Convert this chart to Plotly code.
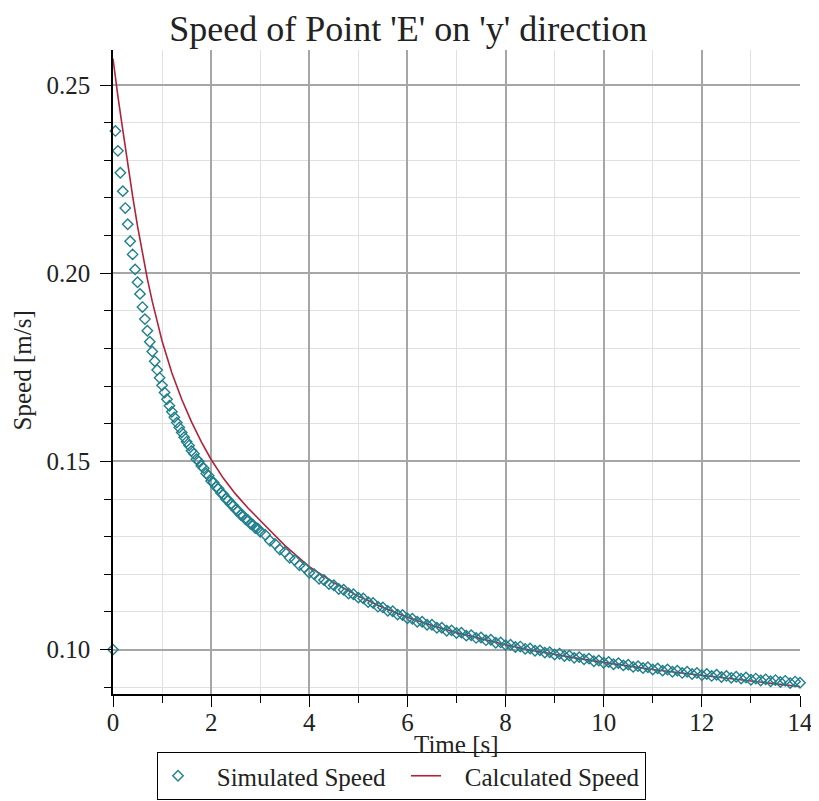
import plotly.graph_objects as go

# ---- data ----
sim_t = [0.00, 0.05, 0.10, 0.15, 0.20, 0.25, 0.30, 0.35, 0.40, 0.45, 0.50, 0.55, 0.60, 0.65, 0.70,
         0.75, 0.80, 0.85, 0.90, 0.95, 1.00, 1.05, 1.10, 1.15, 1.20, 1.25, 1.30, 1.35, 1.40, 1.45,
         1.50, 1.55, 1.60, 1.65, 1.70, 1.75, 1.80, 1.85, 1.90, 1.95, 2.00, 2.05, 2.10, 2.15, 2.20,
         2.25, 2.30, 2.35, 2.40, 2.45, 2.50, 2.55, 2.60, 2.65, 2.70, 2.75, 2.80, 2.85, 2.90, 2.95,
         3.0, 3.1, 3.2, 3.3, 3.4, 3.5, 3.6, 3.7, 3.8, 3.9,
         4.0, 4.1, 4.2, 4.3, 4.4, 4.5, 4.6, 4.7, 4.8, 4.9,
         5.0, 5.1, 5.2, 5.3, 5.4, 5.5, 5.6, 5.7, 5.8, 5.9,
         6.0, 6.1, 6.2, 6.3, 6.4, 6.5, 6.6, 6.7, 6.8, 6.9,
         7.0, 7.1, 7.2, 7.3, 7.4, 7.5, 7.6, 7.7, 7.8, 7.9,
         8.0, 8.1, 8.2, 8.3, 8.4, 8.5, 8.6, 8.7, 8.8, 8.9,
         9.0, 9.1, 9.2, 9.3, 9.4, 9.5, 9.6, 9.7, 9.8, 9.9,
         10.0, 10.1, 10.2, 10.3, 10.4, 10.5, 10.6, 10.7, 10.8, 10.9,
         11.0, 11.1, 11.2, 11.3, 11.4, 11.5, 11.6, 11.7, 11.8, 11.9,
         12.0, 12.1, 12.2, 12.3, 12.4, 12.5, 12.6, 12.7, 12.8, 12.9,
         13.0, 13.1, 13.2, 13.3, 13.4, 13.5, 13.6, 13.7, 13.8, 13.9, 14.0]

sim_v = [0.1000, 0.2378, 0.2325, 0.2267, 0.2218, 0.2173, 0.2130, 0.2085, 0.2050, 0.2010,
         0.1976, 0.1945, 0.1910, 0.1878, 0.1847, 0.1818, 0.1792, 0.1766, 0.1743, 0.1722,
         0.1702, 0.1683, 0.1665, 0.1648, 0.1632, 0.1617, 0.1603, 0.1590, 0.1577, 0.1564,
         0.1552, 0.1542, 0.1528, 0.1520, 0.1506, 0.1500, 0.1488, 0.1482, 0.1468, 0.1462,
         0.1448, 0.1444, 0.1432, 0.1428, 0.1416, 0.1412, 0.1400, 0.1397, 0.1386, 0.1383,
         0.1372, 0.1369, 0.1358, 0.1356, 0.1346, 0.1344, 0.1334, 0.1332, 0.1323, 0.1322,
         0.1313, 0.1305, 0.1289, 0.1281, 0.1266, 0.1259, 0.1244, 0.1238, 0.1224, 0.1218,
         0.1204, 0.1200, 0.1188, 0.1185, 0.1174, 0.1171, 0.1161, 0.1159, 0.1149, 0.1147,
         0.1138, 0.1136, 0.1126, 0.1124, 0.1114, 0.1112, 0.1103, 0.1102, 0.1093, 0.1092,
         0.1083, 0.1082, 0.1074, 0.1074, 0.1066, 0.1066, 0.1058, 0.1058, 0.1050, 0.1051,
         0.1044, 0.1045, 0.1037, 0.1038, 0.1031, 0.1032, 0.1025, 0.1026, 0.1018, 0.1019,
         0.1012, 0.1013, 0.1007, 0.1008, 0.1002, 0.1003, 0.0997, 0.0998, 0.0992, 0.0993,
         0.0987, 0.0989, 0.0983, 0.0984, 0.0978, 0.0980, 0.0974, 0.0976, 0.0969, 0.0971,
         0.0965, 0.0967, 0.0961, 0.0964, 0.0958, 0.0960, 0.0954, 0.0956, 0.0951, 0.0953,
         0.0947, 0.0950, 0.0944, 0.0947, 0.0941, 0.0944, 0.0938, 0.0941, 0.0935, 0.0938,
         0.0932, 0.0935, 0.0930, 0.0933, 0.0927, 0.0930, 0.0925, 0.0928, 0.0923, 0.0926,
         0.0920, 0.0923, 0.0918, 0.0921, 0.0916, 0.0919, 0.0914, 0.0917, 0.0911, 0.0915, 0.0912]

calc_t = [0.0, 0.05, 0.1, 0.2, 0.3, 0.4, 0.5, 0.6, 0.7, 0.8, 0.9, 1.0, 1.2, 1.4, 1.6, 1.8, 2.0,
          2.25, 2.5, 2.75, 3.0, 3.5, 4.0, 4.5, 5.0, 5.5, 6.0, 6.5, 7.0, 7.5, 8.0, 8.5, 9.0, 9.5,
          10.0, 10.5, 11.0, 11.5, 12.0, 12.5, 13.0, 13.5, 14.0]
calc_v = [0.2570, 0.2515, 0.2470, 0.2380, 0.2290, 0.2205, 0.2125, 0.2050, 0.1985, 0.1925,
          0.1870, 0.1820, 0.1735, 0.1665, 0.1605, 0.1552, 0.1505, 0.1455, 0.1413, 0.1376,
          0.1343, 0.1277, 0.1220, 0.1178, 0.1142, 0.1112, 0.1086, 0.1064, 0.1045, 0.1028,
          0.1013, 0.0999, 0.0987, 0.0976, 0.0966, 0.0956, 0.0947, 0.0939, 0.0931, 0.0923,
          0.0916, 0.0909, 0.0902]

title_text = "Speed of Point 'E' on 'y' direction"
x_label = "Time [s]"
y_label = "Speed [m/s]"
series_names = ["Simulated Speed", "Calculated Speed"]

SERIF = "Liberation Serif, Times New Roman, serif"
TXT = "#222222"
PAD = "\u00a0\u00a0\u00a0"

# page body has an 8px margin; figure sized to fill the rest of the 819x801 window
W, H = 811, 793

fig = go.Figure()
fig.add_trace(go.Scatter(
    x=calc_t, y=calc_v, mode="lines", name=PAD + series_names[1], legendrank=2,
    line=dict(color="#b0233a", width=1.6)))
fig.add_trace(go.Scatter(
    x=sim_t, y=sim_v, mode="markers", name=PAD + series_names[0], legendrank=1,
    legendwidth=203, cliponaxis=False,
    marker=dict(symbol="diamond-open", size=8, color="#1f7f8c", line=dict(width=1.4))))

axis_common = dict(
    showline=True, linecolor="black", linewidth=1.5, mirror=False, automargin=False,
    ticks="outside", ticklen=11, tickwidth=1.3, tickcolor="black",
    showgrid=True, gridcolor="#a6a6a6", gridwidth=1.5, zeroline=False,
    tickfont=dict(family=SERIF, size=25, color=TXT),
)

fig.update_layout(
    width=W, height=H,
    margin=dict(l=105, r=19, t=42, b=107, autoexpand=False),
    paper_bgcolor="white", plot_bgcolor="white",
    title=dict(text=title_text, x=0.4935, xref="container", xanchor="center",
               y=1 - 20 / H, yref="container", yanchor="middle",
               font=dict(family=SERIF, size=36, color=TXT)),
    xaxis=dict(range=[0, 14], tick0=0, dtick=2, ticklabelstandoff=-6,
               minor=dict(dtick=1, ticks="outside", ticklen=7, tickwidth=1.2, tickcolor="black",
                          showgrid=True, gridcolor="#e0e0e0", gridwidth=1),
               **axis_common),
    yaxis=dict(range=[0.0882, 0.2593], tick0=0, dtick=0.05, tickformat=".2f",
               ticklabelstandoff=5,
               minor=dict(dtick=0.01, ticks="outside", ticklen=7, tickwidth=1.2, tickcolor="black",
                          showgrid=True, gridcolor="#e0e0e0", gridwidth=1),
               **axis_common),
    showlegend=True,
    legend=dict(orientation="h", xref="container", yref="container",
                x=149 / W, xanchor="left", y=1 - 792 / H, yanchor="bottom",
                bgcolor="white", bordercolor="black", borderwidth=1,
                font=dict(family=SERIF, size=25, color=TXT)),
    annotations=[
        dict(text=x_label, xref="paper", yref="paper", x=0.5, y=-0.079,
             xanchor="center", yanchor="middle", showarrow=False,
             font=dict(family=SERIF, size=25, color=TXT)),
        dict(text=y_label, xref="paper", yref="paper", x=-0.132, y=0.503,
             xanchor="center", yanchor="middle", showarrow=False, textangle=-90,
             font=dict(family=SERIF, size=25, color=TXT)),
    ],
)

fig.write_html("out.html")
